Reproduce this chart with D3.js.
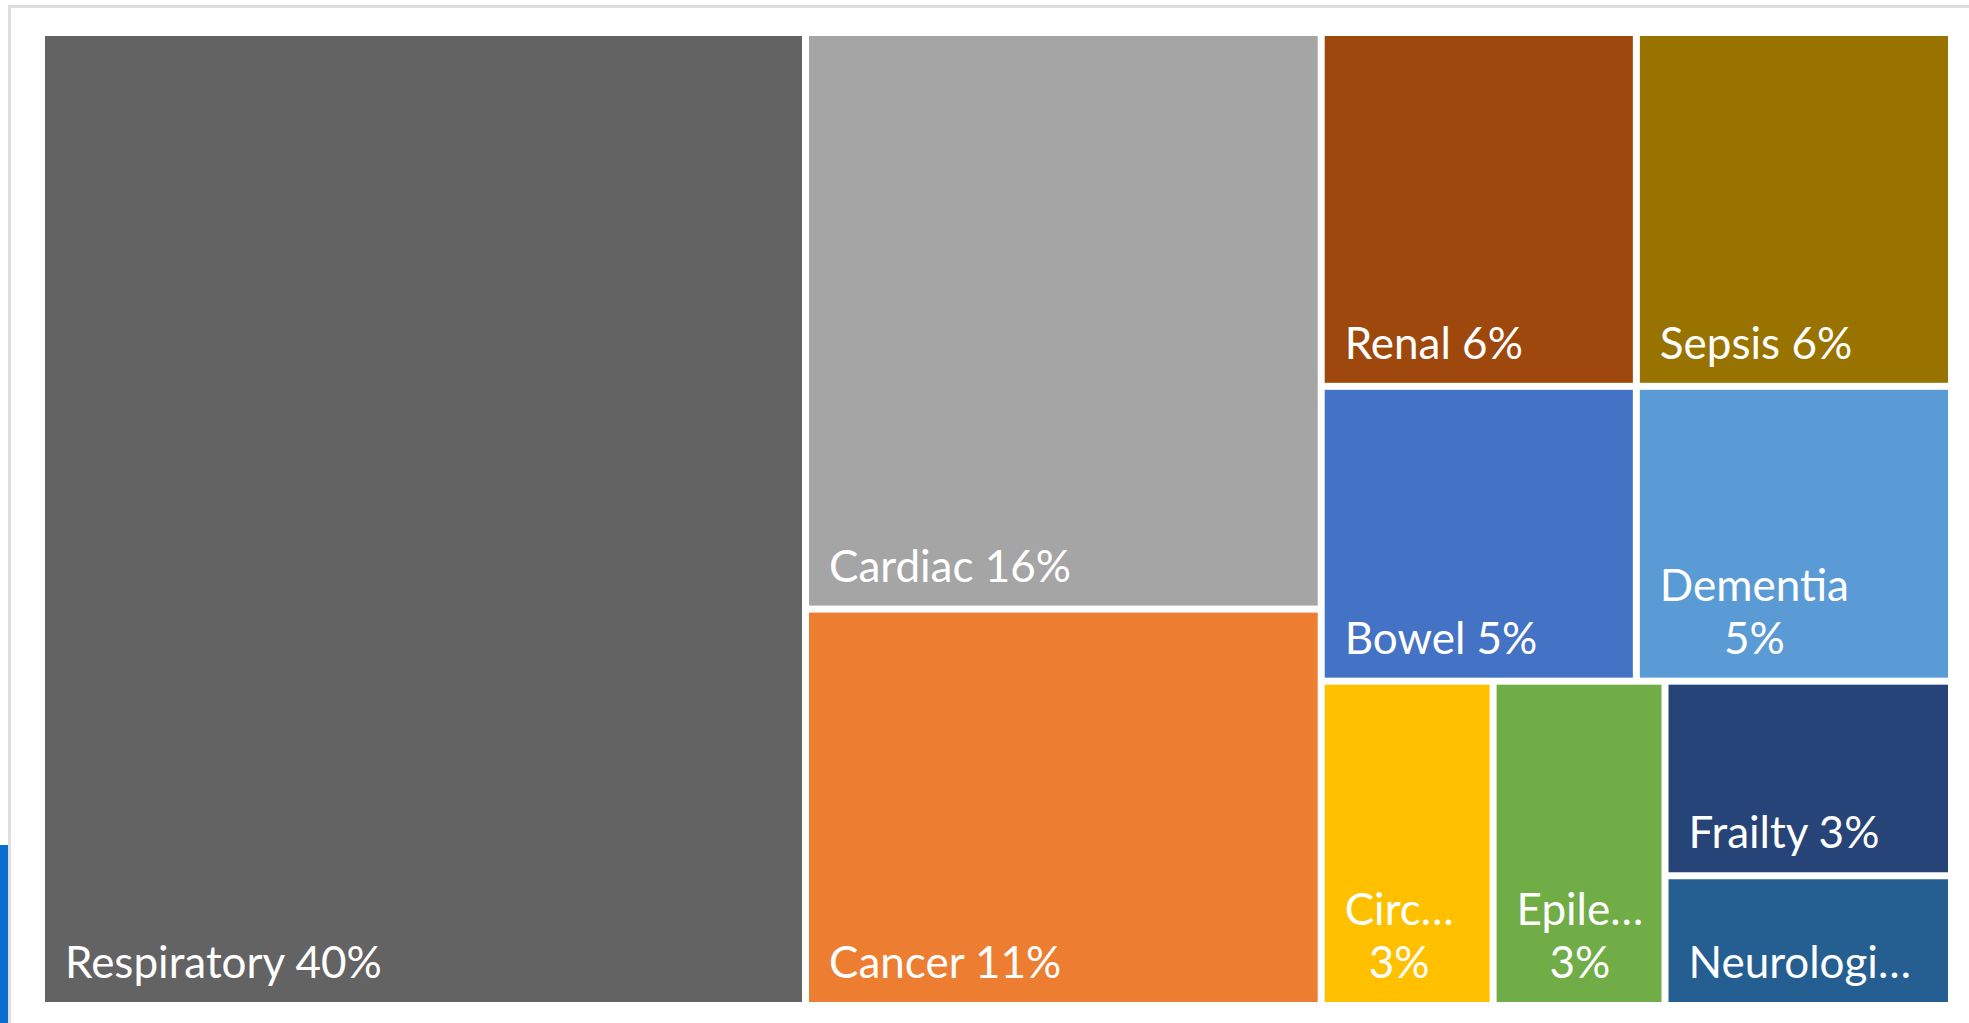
<!DOCTYPE html>
<html>
<head>
<meta charset="utf-8">
<script src="https://cdn.jsdelivr.net/npm/d3@7"></script>
<style>
body { margin: 0; background: #fff; }
svg { display: block; }
.label { font-family: Lato, "Open Sans", sans-serif; fill: #fff; }
</style>
</head>
<body>
<svg></svg>
<script>
// categories, their share (%) and the office theme colours
var categories = ["Respiratory", "Cardiac", "Cancer", "Renal", "Sepsis", "Bowel", "Dementia", "Circulatory", "Epilepsy", "Frailty", "Neurological"];
var shares = [40, 16, 11, 6, 6, 5, 5, 3, 3, 3, 2];
var colours = ["#636363", "#a5a5a5", "#ed7d31", "#9e480e", "#997300", "#4472c4", "#5b9bd5", "#ffc000", "#70ad47", "#264478", "#255e91"];
// nesting used by the slice/dice tiling
var groups = ["", "col2", "col2", "col3/row1", "col3/row1", "col3/row2", "col3/row2", "col3/row3", "col3/row3", "col3/row3/stack", "col3/row3/stack"];

var margin = {top: 36, left: 45};
var width = 1903, height = 966;
var fontSize = 44, lineH = 53, padX = 20, padB = 24;

var rows = categories.map(function(c, i) {
	return {name: c, value: shares[i], colour: colours[i], path: "/" + (groups[i] ? groups[i] + "/" : "") + c};
});

var root = d3.stratify().path(function(d) { return d.path; })(rows);
root.sum(function(d) { return d && d.value ? d.value : 0; });

d3.treemap()
	.tile(d3.treemapSliceDice)
	.size([width, height])
	.paddingInner(7)(root);

var svg = d3.select("svg").attr("width", 1969).attr("height", 1023);

// chart frame and the strip on the left edge
svg.append("rect").attr("x", 9.5).attr("y", 6.5).attr("width", 2000).attr("height", 1100)
	.attr("fill", "none").attr("stroke", "#dedede").attr("stroke-width", 3);
svg.append("rect").attr("x", 0).attr("y", 845).attr("width", 8).attr("height", 178).attr("fill", "#0a6ed1");

var g = svg.append("g").attr("transform", "translate(" + margin.left + "," + margin.top + ")");

var cell = g.selectAll(".cell").data(root.leaves()).enter().append("g").attr("class", "cell");

cell.append("rect")
	.attr("x", function(d) { return d.x0; })
	.attr("y", function(d) { return d.y0; })
	.attr("width", function(d) { return d.x1 - d.x0; })
	.attr("height", function(d) { return d.y1 - d.y0; })
	.attr("fill", function(d) { return d.data.colour; });

//Labels, bottom left, wrapped and clipped like the office treemap
cell.each(function(d) {
	var w = d.x1 - d.x0, h = d.y1 - d.y0;
	var t = d3.select(this).append("text").attr("class", "label").style("font-size", fontSize + "px");
	var measure = function(s) { t.text(s); return t.node().getComputedTextLength(); };
	var clip = function(s, maxW, force) {
		if (!force && measure(s) <= maxW) return s;
		s = s.replace(/\u2026$/, "");
		while (s.length > 1 && measure(s + "\u2026") > maxW) s = s.slice(0, -1);
		return s + "\u2026";
	};
	var maxW = w - 38;
	var pct = d.data.value + "%";
	var full = d.data.name + " " + pct;
	var lines = measure(full) <= w - 75 ? [full] : [clip(d.data.name, maxW), pct];
	var maxLines = Math.max(1, Math.floor((h - 40) / lineH));
	if (lines.length > maxLines) {
		lines = lines.slice(0, maxLines);
		lines[maxLines - 1] = clip(lines[maxLines - 1], maxW, true);
	}
	var widths = lines.map(measure);
	var blockW = d3.max(widths);
	t.text(null);
	lines.forEach(function(s, i) {
		t.append("tspan")
			.attr("x", d.x0 + padX + (lines.length > 1 ? (blockW - widths[i]) / 2 : 0))
			.attr("y", d.y1 - padB - (lines.length - 1 - i) * lineH)
			.text(s);
	});
});
</script>
</body>
</html>
